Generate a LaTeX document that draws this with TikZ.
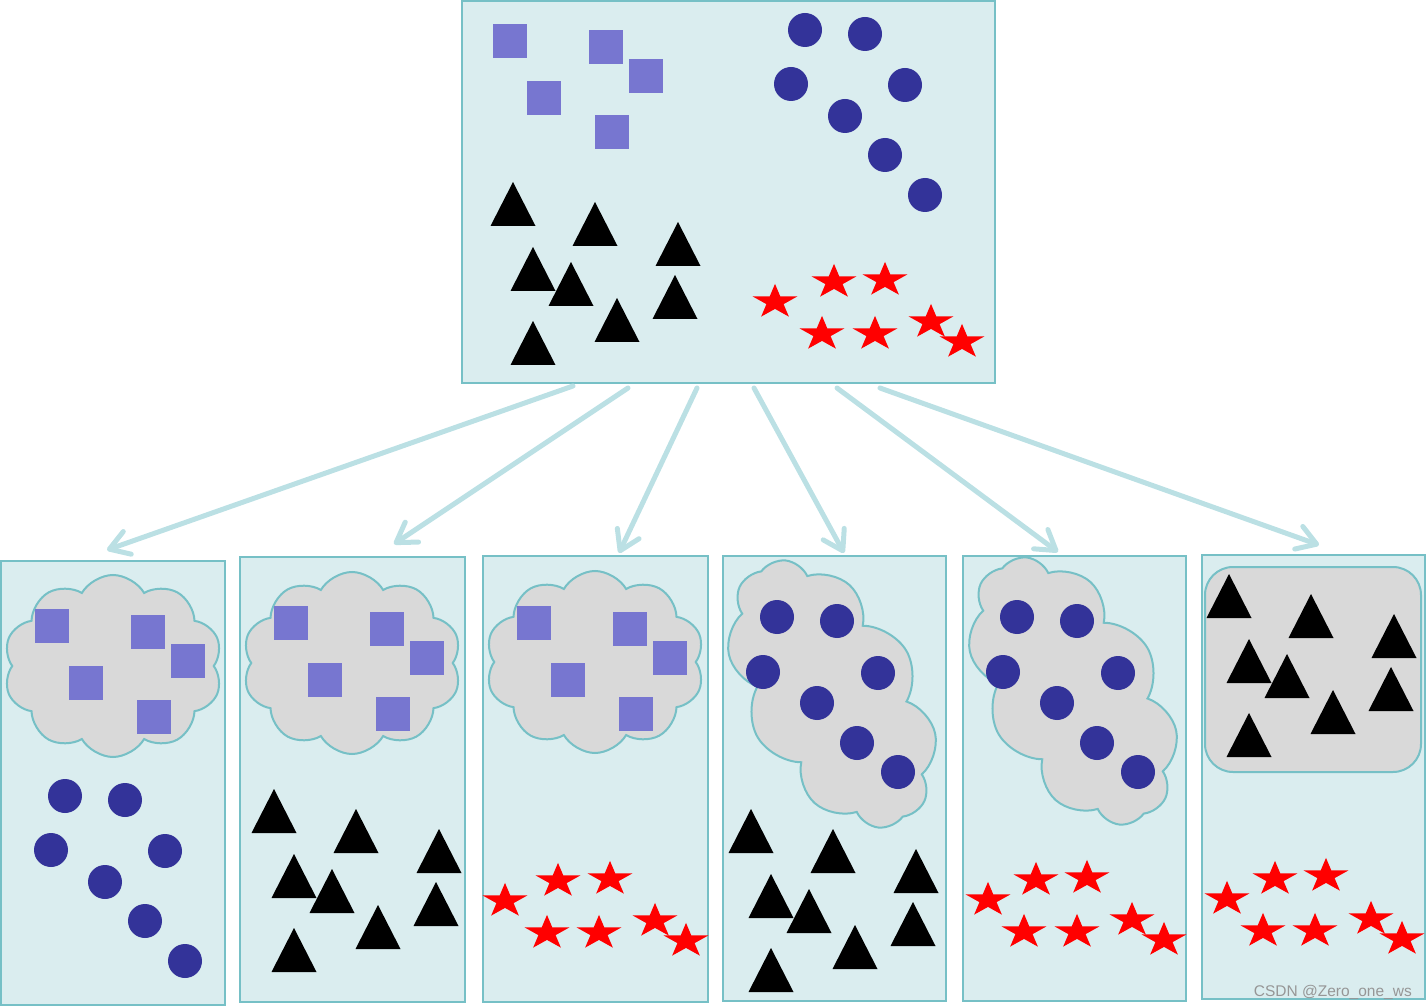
\documentclass[tikz,border=0pt]{standalone}
\usepackage{fontspec}
\setmainfont{Liberation Sans}
\usetikzlibrary{arrows.meta,shapes.symbols}
\definecolor{panelfill}{RGB}{218,237,239}
\definecolor{panelline}{RGB}{118,192,198}
\definecolor{cloudfill}{RGB}{217,217,217}
\definecolor{sqcol}{RGB}{119,118,208}
\definecolor{circol}{RGB}{51,51,153}
\definecolor{arrcol}{RGB}{187,224,228}
\definecolor{wmcol}{RGB}{150,150,150}
\tikzset{
  panel/.style={draw=panelline, fill=panelfill, line width=2pt, rectangle, inner sep=0pt, outer sep=0pt},
  puffy/.style={draw=panelline, fill=cloudfill, line width=2pt, cloud, cloud puffs=10, cloud puff arc=120, cloud ignores aspect, inner sep=0pt},
  arr/.style={draw=arrcol, line width=5pt, line cap=round, -{Straight Barb[length=19pt,width=24pt,round]}},
}
\newcommand\mySq[2]{\fill[sqcol] (#1-17,#2-17) rectangle (#1+17,#2+17);}
\newcommand\myDot[2]{\fill[circol] (#1,#2) circle[radius=17pt];}
\newcommand\myTri[2]{\fill[black] (#1,#2) -- (#1+22.5,#2+44) -- (#1-22.5,#2+44) -- cycle;}
\newcommand\myStar[2]{\fill[red,shift={(#1,#2)},xscale=23.6,yscale=18.1] (-90:1) -- (-54:0.382) -- (-18:1) -- (18:0.382) -- (54:1) -- (90:0.382) -- (126:1) -- (162:0.382) -- (198:1) -- (234:0.382) -- cycle;}
\newcommand\SqGroup{\mySq{510}{41}\mySq{606}{47}\mySq{646}{76}\mySq{544}{98}\mySq{612}{132}}
\newcommand\TriGroup{\myTri{513}{182}\myTri{595}{202}\myTri{678}{222}\myTri{533}{247}\myTri{571}{262}\myTri{675}{275}\myTri{617}{298}\myTri{533}{321}}
\newcommand\DotGroup{\myDot{805}{30}\myDot{865}{34}\myDot{791}{84}\myDot{905}{85}\myDot{845}{116}\myDot{885}{155}\myDot{925}{195}}
\begin{document}
\begin{tikzpicture}[x=1pt,y=-1pt]
\useasboundingbox (0,0) rectangle (1428,1008);
% panels
\node[panel, minimum width=533pt, minimum height=382pt] (top) at (728.5,192) {};
\node[panel, minimum width=224pt, minimum height=444pt] (b1) at (113,783) {};
\node[panel, minimum width=225pt, minimum height=445pt] (b2) at (352.5,779.5) {};
\node[panel, minimum width=225pt, minimum height=446pt] (b3) at (595.5,779) {};
\node[panel, minimum width=223pt, minimum height=445pt] (b4) at (834.5,778.5) {};
\node[panel, minimum width=223pt, minimum height=445pt] (b5) at (1074.5,778.5) {};
\node[panel, minimum width=223pt, minimum height=444pt] (b6) at (1313.5,777) {};
% clouds
\node[puffy, minimum width=219pt, minimum height=182pt] (cl1) at (113,666) {};
\node[puffy, minimum width=219pt, minimum height=182pt] (cl2) at (352,663) {};
\node[puffy, minimum width=219pt, minimum height=182pt] (cl3) at (595,662) {};
\node[puffy, minimum width=292pt, minimum height=172pt, rotate=-60] (cl4) at (832,694) {};
\node[puffy, minimum width=292pt, minimum height=172pt, rotate=-60] (cl5) at (1073,691) {};
\node[draw=panelline, fill=cloudfill, line width=2pt, rounded corners=28pt, minimum width=216pt, minimum height=205pt] (rr) at (1313,669.5) {};
% top panel content
\SqGroup
\DotGroup
\TriGroup
\myStar{775}{302}\myStar{834}{282}\myStar{885}{280}\myStar{822}{334}\myStar{875}{334}\myStar{931}{322}\myStar{962}{342}
% box 1
\begin{scope}[shift={(-458,585)}]\SqGroup\end{scope}
\begin{scope}[shift={(-740,766)}]\DotGroup\end{scope}
% box 2
\begin{scope}[shift={(-219,582)}]\SqGroup\end{scope}
\begin{scope}[shift={(-239,607)}]\TriGroup\end{scope}
% box 3
\begin{scope}[shift={(24,582)}]\SqGroup\end{scope}
\myStar{505}{901}\myStar{558}{881}\myStar{610}{879}\myStar{547}{933}\myStar{599}{933}\myStar{655}{921}\myStar{686}{941}
% box 4
\myDot{777}{617}\myDot{837}{621}\myDot{763}{672}\myDot{878}{673}\myDot{817}{703}\myDot{857}{743}\myDot{898}{772}
\begin{scope}[shift={(238,627)}]\TriGroup\end{scope}
% box 5
\myDot{1017}{617}\myDot{1077}{621}\myDot{1003}{672}\myDot{1118}{673}\myDot{1057}{703}\myDot{1097}{743}\myDot{1138}{772}
\myStar{988}{900}\myStar{1036}{880}\myStar{1087}{878}\myStar{1024}{932}\myStar{1077}{932}\myStar{1132}{920}\myStar{1164}{940}
% box 6
\begin{scope}[shift={(716,392)}]\TriGroup\end{scope}
\myStar{1227}{899}\myStar{1275}{879}\myStar{1326}{876}\myStar{1263}{931}\myStar{1315}{931}\myStar{1371}{919}\myStar{1402}{939}
% arrows
\coordinate (s1) at (573,386); \coordinate (e1) at (107,550);
\coordinate (s2) at (628,388); \coordinate (e2) at (394,544);
\coordinate (s3) at (697,388); \coordinate (e3) at (619,553);
\coordinate (s4) at (754,388); \coordinate (e4) at (844,553);
\coordinate (s5) at (837,388); \coordinate (e5) at (1058,552);
\coordinate (s6) at (880,388); \coordinate (e6) at (1319,545);
\foreach \i in {1,...,6} {\draw[arr] (s\i) -- (e\i);}
% watermark
\node[font=\fontsize{15.5}{15.5}\selectfont, text=wmcol, anchor=base east, inner sep=0pt] (wm) at (1412,996) {CSDN @Zero\_one\_ws};
\end{tikzpicture}
\end{document}
